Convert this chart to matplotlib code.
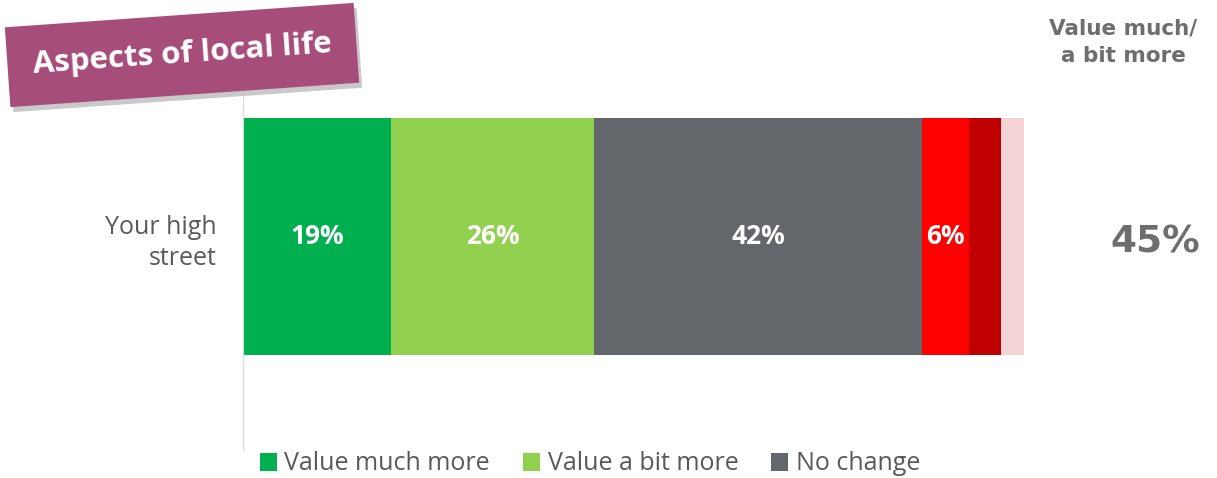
import matplotlib.pyplot as plt
import matplotlib.transforms as mtransforms

# Data
category = "Your high\nstreet"
segments = ["Value much more", "Value a bit more", "No change",
            "Value a bit less", "Value much less", "Don't know"]
values = [19, 26, 42, 6, 4, 3]
colors = ["#00B050", "#92D050", "#63666A", "#FF0000", "#C00000", "#F4D3D5"]
shown_labels = ["19%", "26%", "42%", "6%", "", ""]
legend_items = 3
net_label = "45%"

plt.rcParams['font.family'] = ['Open Sans', 'DejaVu Sans']

fig = plt.figure(figsize=(12.17, 4.78), dpi=100)
ax = fig.add_axes([243 / 1217, 28 / 478, 781 / 1217, 360 / 478])

left = 0
bars = []
for name, v, c, lab in zip(segments, values, colors, shown_labels):
    b = ax.barh(0.593, v, left=left, height=0.658, color=c, label=name)
    bars.append(b)
    if lab:
        ax.text(left + v / 2, 0.593, lab, ha="center", va="center",
                color="white", fontsize=19, fontweight="bold")
    left += v

ax.set_xlim(0, 100)
ax.set_ylim(0, 1)
ax.set_xticks([])
ax.set_yticks([0.593])
ax.set_yticklabels([category], fontsize=18, color="#595959",
                   multialignment="right", linespacing=1.35)
ax.tick_params(axis="y", length=0, pad=19)
for s in ["top", "right", "bottom"]:
    ax.spines[s].set_visible(False)
ax.spines["left"].set_color("#D9D9D9")

# net column
fig.text(1123 / 1217, 1 - 42 / 478, "Value much/\na bit more", ha="center",
         va="center", fontsize=15.5, fontweight="bold", color="#6E6E6E",
         family="DejaVu Sans", linespacing=1.45)
fig.text(1155 / 1217, 1 - 242 / 478, net_label, ha="center", va="center",
         fontsize=27, fontweight="bold", color="#6E6E6E", family="DejaVu Sans")

# title box with shadow
shadow = mtransforms.ScaledTranslation(3 / 100, -5 / 100, fig.dpi_scale_trans)
fig.text(182 / 1217, 1 - 55 / 478, "Aspects of local life", ha="center",
         va="center", rotation=4, fontsize=22.5, fontweight="bold",
         color="#C9C9C9",
         bbox=dict(boxstyle="square,pad=0.8", fc="#C9C9C9", ec="none"),
         transform=fig.transFigure + shadow)
fig.text(182 / 1217, 1 - 55 / 478, "Aspects of local life", ha="center",
         va="center", rotation=4, fontsize=22.5, fontweight="bold",
         color="white",
         bbox=dict(boxstyle="square,pad=0.8", fc="#A64D79", ec="none"))

fig.legend(handles=[b for b in bars[:legend_items]], loc="center left",
           bbox_to_anchor=(237 / 1217, 1 - 464 / 478), ncol=3, frameon=False,
           fontsize=18, handlelength=0.7, handleheight=0.7,
           handletextpad=0.3, columnspacing=1.3, labelcolor="#595959")

fig.savefig("out.png", dpi=100)
